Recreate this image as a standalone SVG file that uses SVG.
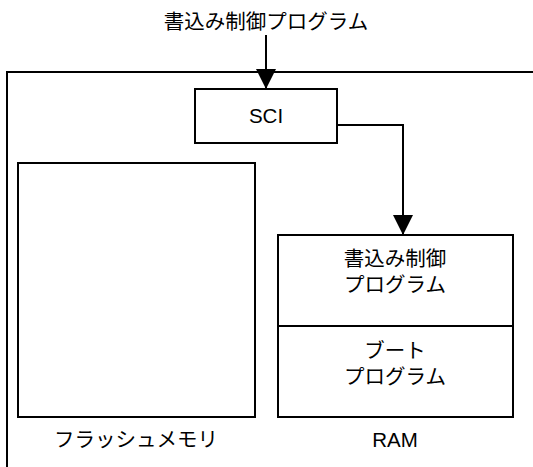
<svg xmlns="http://www.w3.org/2000/svg" width="533" height="467" viewBox="0 0 533 467">
<style>
.box{fill:#fff;stroke:#000;stroke-width:2}
.ln{fill:none;stroke:#000;stroke-width:2}
text{font-family:"Liberation Sans","Noto Sans CJK JP",sans-serif;font-size:20.5px;fill:#000;text-anchor:middle}
</style>
<defs>
<marker id="ah" markerWidth="20" markerHeight="22" refX="20" refY="10" orient="auto" markerUnits="userSpaceOnUse">
<path d="M0,0 L20,10 L0,20 Z" fill="#000"/>
</marker>
</defs>
<g id="chip"><path class="ln" d="M7,467 L7,72 L533,72"/></g>
<g id="title"><text x="266" y="29">書込み制御プログラム</text></g>
<g id="sci"><rect class="box" x="195" y="89" width="142" height="54"/><text x="266" y="123">SCI</text></g>
<g id="flash"><rect class="box" x="18" y="163" width="237" height="254"/><text x="136" y="447">フラッシュメモリ</text></g>
<g id="ram"><rect class="box" x="278" y="235" width="235" height="182"/><line class="ln" x1="278" y1="326" x2="513" y2="326"/>
<text x="395" y="266">書込み制御</text><text x="395" y="292">プログラム</text>
<text x="395" y="358">ブート</text><text x="395" y="384">プログラム</text>
<text x="395" y="447">RAM</text></g>
<g id="connectors">
<path class="ln" d="M266,35 L266,89" marker-end="url(#ah)"/>
<path class="ln" d="M337,125 L403,125 L403,235" marker-end="url(#ah)"/>
</g>
</svg>
